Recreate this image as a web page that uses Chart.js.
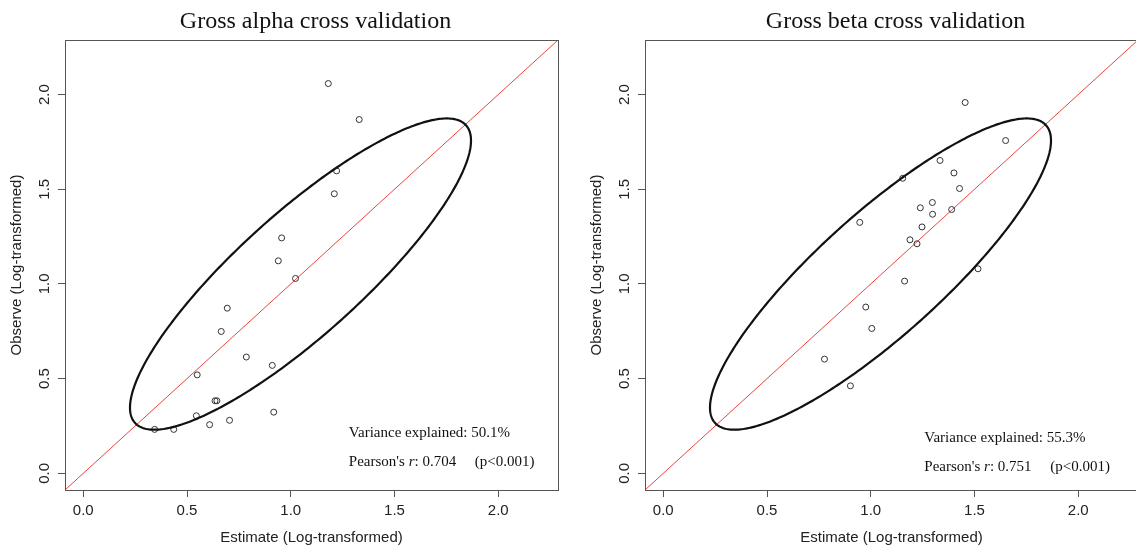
<!DOCTYPE html>
<html>
<head>
<meta charset="utf-8">
<script src="https://cdn.jsdelivr.net/npm/chart.js@4/dist/chart.umd.min.js"></script>
<style>
  html, body { margin:0; padding:0; background:#fff; width:1136px; height:552px; overflow:hidden; }
  .panel { position:absolute; top:0; width:568px; height:552px; }
  #p1 { left:0; }
  #p2 { left:580px; }
</style>
</head>
<body>
<div class="panel" id="p1"><canvas id="c1" width="568" height="552"></canvas></div>
<div class="panel" id="p2"><canvas id="c2" width="568" height="552"></canvas></div>
<script>
// ---------- data ----------
const titles = ["Gross alpha cross validation", "Gross beta cross validation"];
const xAxisTitle = "Estimate (Log-transformed)";
const yAxisTitle = "Observe (Log-transformed)";
const tickValues = [0.0, 0.5, 1.0, 1.5, 2.0];
const axisRange = [-0.088, 2.288];

const alphaEstimate = [1.181, 1.330, 1.221, 1.210, 0.956, 0.940, 1.023, 0.694, 0.665, 0.786,
                       0.911, 0.549, 0.635, 0.644, 0.918, 0.545, 0.705, 0.609, 0.344, 0.436];
const alphaObserve  = [2.058, 1.868, 1.597, 1.476, 1.243, 1.122, 1.029, 0.872, 0.749, 0.614,
                       0.570, 0.520, 0.383, 0.383, 0.323, 0.304, 0.280, 0.257, 0.232, 0.232];

const betaEstimate = [1.455, 1.650, 1.334, 1.154, 1.401, 1.428, 1.297, 1.239, 1.298, 1.390,
                      0.947, 1.247, 1.189, 1.223, 1.517, 1.163, 0.976, 1.005, 0.777, 0.902];
const betaObserve  = [1.958, 1.757, 1.652, 1.558, 1.586, 1.504, 1.430, 1.402, 1.368, 1.393,
                      1.325, 1.301, 1.233, 1.212, 1.080, 1.015, 0.878, 0.765, 0.603, 0.462];

// ellipse: centre x, centre y, semi-major, semi-minor, angle (deg) in data units
const alphaEllipse = [1.047, 1.052, 1.12, 0.31, 45];
const betaEllipse  = [1.047, 1.052, 1.12, 0.31, 45];

const alphaStats = ["Variance explained: 50.1%", "0.704", "(p<0.001)"];
const betaStats  = ["Variance explained: 55.3%", "0.751", "(p<0.001)"];
// annotation anchor (data coords) for line 1, line 2
const alphaStatsPos = [1.28, 0.213, 0.060];
const betaStatsPos  = [1.258, 0.186, 0.033];

// ---------- drawing ----------
const SANS = '"Liberation Sans", Arial, sans-serif';
const SERIF = '"Liberation Serif", "Times New Roman", serif';

function makeChart(canvasId, title, xs, ys, ell, stats, statsPos) {
  const pts = xs.map((x, i) => ({x: x, y: ys[i]}));

  const decor = {
    id: 'decor',
    afterDatasetsDraw(chart) {
      const ctx = chart.ctx;
      const sx = chart.scales.x, sy = chart.scales.y;
      const a = chart.chartArea;
      // ellipse
      const [cx, cy, ra, rb, angDeg] = ell;
      const th = angDeg * Math.PI / 180;
      ctx.save();
      ctx.beginPath();
      ctx.rect(a.left, a.top, a.right - a.left, a.bottom - a.top);
      ctx.clip();
      ctx.beginPath();
      for (let k = 0; k <= 360; k++) {
        const t = k * Math.PI / 180;
        const ex = cx + ra * Math.cos(t) * Math.cos(th) - rb * Math.sin(t) * Math.sin(th);
        const ey = cy + ra * Math.cos(t) * Math.sin(th) + rb * Math.sin(t) * Math.cos(th);
        const px = sx.getPixelForValue(ex), py = sy.getPixelForValue(ey);
        if (k === 0) ctx.moveTo(px, py); else ctx.lineTo(px, py);
      }
      ctx.closePath();
      ctx.lineWidth = 2.2;
      ctx.strokeStyle = '#111';
      ctx.stroke();
      ctx.restore();
    },
    afterDraw(chart) {
      const ctx = chart.ctx;
      const sx = chart.scales.x, sy = chart.scales.y;
      const a = chart.chartArea;
      ctx.save();
      // box
      ctx.strokeStyle = '#555';
      ctx.lineWidth = 1;
      ctx.strokeRect(Math.round(a.left) + 0.5, Math.round(a.top) + 0.5,
                     Math.round(a.right - a.left), Math.round(a.bottom - a.top));
      // title
      ctx.fillStyle = '#111';
      ctx.font = '24px ' + SERIF;
      ctx.textAlign = 'center';
      ctx.textBaseline = 'alphabetic';
      ctx.fillText(title, (a.left + a.right) / 2 + 4, 28);
      // tick labels
      ctx.font = '15px ' + SANS;
      ctx.fillStyle = '#222';
      ctx.textBaseline = 'middle';
      tickValues.forEach(v => {
        ctx.textAlign = 'center';
        ctx.fillText(v.toFixed(1), sx.getPixelForValue(v), a.bottom + 21);
        ctx.save();
        ctx.translate(a.left - 20, sy.getPixelForValue(v));
        ctx.rotate(-Math.PI / 2);
        ctx.fillText(v.toFixed(1), 0, 0);
        ctx.restore();
      });
      // axis titles
      ctx.fillText(xAxisTitle, (a.left + a.right) / 2, a.bottom + 48);
      ctx.save();
      ctx.translate(a.left - 48, (a.top + a.bottom) / 2);
      ctx.rotate(-Math.PI / 2);
      ctx.fillText(yAxisTitle, 0, 0);
      ctx.restore();
      // stats annotation
      ctx.textAlign = 'left';
      ctx.fillStyle = '#111';
      const ax = sx.getPixelForValue(statsPos[0]);
      const y1 = sy.getPixelForValue(statsPos[1]);
      const y2 = sy.getPixelForValue(statsPos[2]);
      ctx.font = '15px ' + SERIF;
      ctx.fillText(stats[0], ax, y1);
      let xx = ax;
      const s1 = "Pearson's ";
      ctx.fillText(s1, xx, y2);
      xx += ctx.measureText(s1).width;
      ctx.font = 'italic 15px ' + SERIF;
      ctx.fillText('r', xx, y2);
      xx += ctx.measureText('r').width;
      ctx.font = '15px ' + SERIF;
      ctx.fillText(': ' + stats[1], xx, y2);
      ctx.fillText(stats[2], ax + 126, y2);
      ctx.restore();
    }
  };

  return new Chart(document.getElementById(canvasId), {
    type: 'scatter',
    data: {
      datasets: [
        {
          type: 'line',
          data: [{x: axisRange[0], y: axisRange[0]}, {x: axisRange[1], y: axisRange[1]}],
          borderColor: '#e8453c',
          borderWidth: 1,
          pointRadius: 0,
          fill: false,
          order: 2
        },
        {
          data: pts,
          pointStyle: 'circle',
          pointRadius: 3,
          pointBorderWidth: 1,
          pointBorderColor: '#333',
          pointBackgroundColor: 'rgba(0,0,0,0)',
          order: 1
        }
      ]
    },
    options: {
      responsive: false,
      animation: false,
      devicePixelRatio: 1,
      layout: { padding: { left: 0, top: 40, right: 10, bottom: 0 } },
      plugins: { legend: { display: false }, tooltip: { enabled: false }, title: { display: false } },
      scales: {
        x: {
          type: 'linear',
          min: axisRange[0], max: axisRange[1],
          afterBuildTicks(scale) { scale.ticks = tickValues.map(v => ({value: v})); },
          afterFit(scale) { scale.height = 62; },
          ticks: { display: false, includeBounds: false },
          grid: { drawOnChartArea: false, drawTicks: true, tickLength: 7, color: '#555', lineWidth: 1 },
          border: { display: false }
        },
        y: {
          type: 'linear',
          min: axisRange[0], max: axisRange[1],
          afterBuildTicks(scale) { scale.ticks = tickValues.map(v => ({value: v})); },
          afterFit(scale) { scale.width = 65; },
          ticks: { display: false, includeBounds: false },
          grid: { drawOnChartArea: false, drawTicks: true, tickLength: 7, color: '#555', lineWidth: 1 },
          border: { display: false }
        }
      }
    },
    plugins: [decor]
  });
}

makeChart('c1', titles[0], alphaEstimate, alphaObserve, alphaEllipse, alphaStats, alphaStatsPos);
makeChart('c2', titles[1], betaEstimate, betaObserve, betaEllipse, betaStats, betaStatsPos);
</script>
</body>
</html>
